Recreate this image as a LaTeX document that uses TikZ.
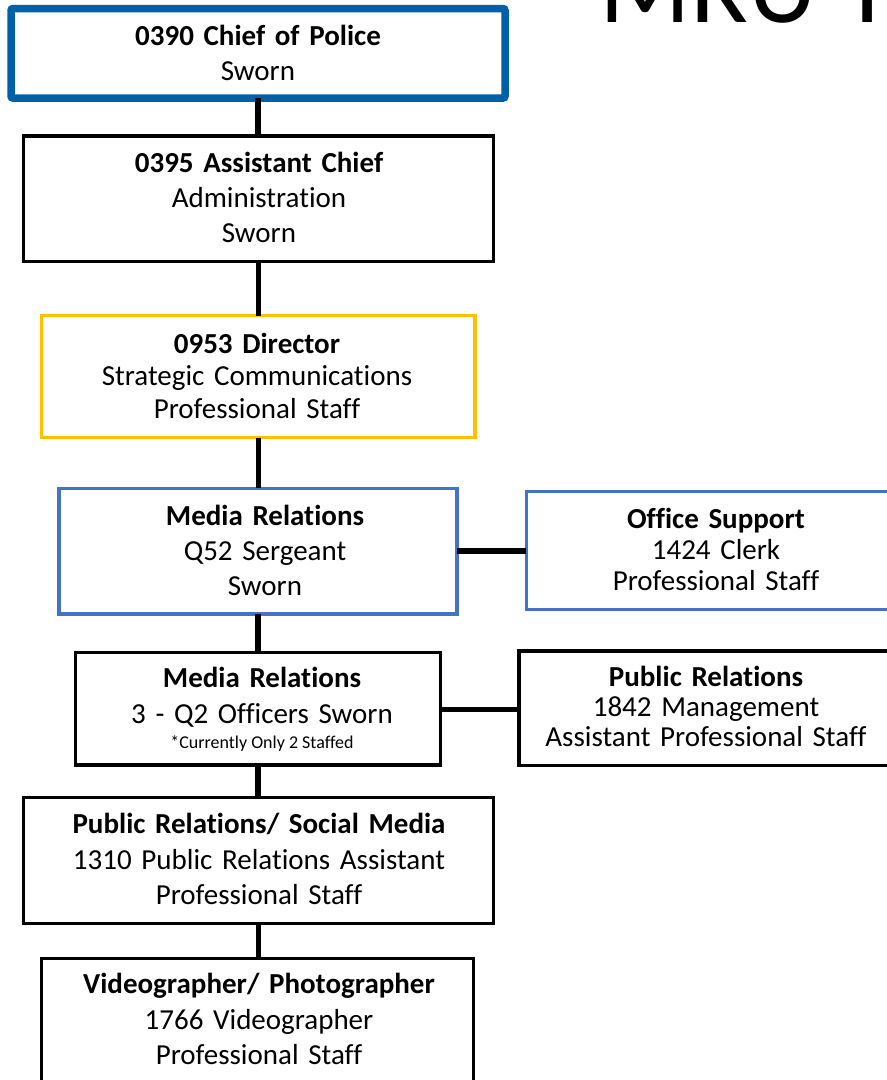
\documentclass[tikz,border=0pt]{standalone}
\usepackage{fontspec}
\setmainfont{Carlito}[Ligatures={NoCommon}]
\definecolor{chiefblue}{RGB}{0,96,170}
\definecolor{dirgold}{RGB}{255,192,0}
\definecolor{mrblue}{RGB}{68,114,196}
\begin{document}
\begin{tikzpicture}[x=1pt,y=-1pt,
  box/.style={draw=black, line width=3.4pt, rectangle, inner sep=0pt, outer sep=0pt},
  lbl/.style={anchor=base, inner sep=0pt, text width=480pt, align=center, font=\fontsize{29}{#1}\selectfont},
  lbl/.default=35,
  conn/.style={draw=black, line width=5.5pt}]
\useasboundingbox (0,0) rectangle (887,1080);
\clip (0,0) rectangle (887,1080);
\fill[white] (0,0) rectangle (887,1080);

% title (cut off by page edge)
\node[anchor=base west, inner sep=0pt, font=\fontsize{107}{107}\selectfont] (title) at (599,22) {MRU T};

% boxes
\node[box, draw=chiefblue, line width=7.5pt, rounded corners=2pt, minimum width=494pt, minimum height=89.5pt] (chief) at (258,53.3) {};
\node[box, minimum width=470pt, minimum height=125.7pt] (asst) at (258.3,198.9) {};
\node[box, draw=dirgold, minimum width=433.3pt, minimum height=122pt] (dir) at (258.3,376.7) {};
\node[box, draw=mrblue, minimum width=398pt, minimum height=125.7pt] (sgt) at (258,551.2) {};
\node[box, draw=mrblue, minimum width=381.7pt, minimum height=117.6pt] (office) at (717.2,550.5) {};
\node[box, minimum width=365pt, minimum height=112.7pt] (officers) at (258.2,708.7) {};
\node[box, minimum width=374pt, minimum height=114.7pt] (pr) at (706,708.3) {};
\node[box, minimum width=470pt, minimum height=126pt] (prsm) at (258.3,860.3) {};
\node[box, minimum width=431.6pt, minimum height=126pt] (video) at (257.5,1021.3) {};

% connectors
\draw[conn] (chief.south) -- (chief.south |- asst.north);
\draw[conn] (asst.south) -- (asst.south |- dir.north);
\draw[conn] (dir.south) -- (dir.south |- sgt.north);
\draw[conn] (sgt.south) -- (sgt.south |- officers.north);
\draw[conn] (officers.south) -- (officers.south |- prsm.north);
\draw[conn] (prsm.south) -- (prsm.south |- video.north);
\draw[conn] (sgt.east) -- (sgt.east -| office.west);
\draw[conn] ([yshift=-1pt]officers.east) -- ([yshift=-1pt]officers.east -| pr.west);

% texts
\node[lbl=35] (tchief) at (258,45) {\textbf{0390 Chief of Police}\\Sworn};
\node[lbl=35] (tasst) at (259,172) {\textbf{0395 Assistant Chief}\\Administration\\Sworn};
\node[lbl=32.5] (tdir) at (257,353.3) {\textbf{0953 Director}\\Strategic Communications\\Professional Staff};
\node[lbl=35] (tsgt) at (265,525) {\textbf{Media Relations}\\Q52 Sergeant\\Sworn};
\node[lbl=31] (toffice) at (716,528.3) {\textbf{Office Support}\\1424 Clerk\\Professional Staff};
\node[lbl=35.6] (tofficers) at (262,687.7) {\textbf{Media Relations}\\3 - Q2 Officers Sworn};
\node[anchor=base, inner sep=0pt, font=\fontsize{18}{22}\selectfont] (tnote) at (262,748.3) {*Currently Only 2 Staffed};
\node[lbl=30] (tpr) at (706,686.7) {\textbf{Public Relations}\\1842 Management\\Assistant Professional Staff};
\node[lbl=35.8] (tprsm) at (259,833.3) {\textbf{Public Relations/ Social Media}\\1310 Public Relations Assistant\\Professional Staff};
\node[lbl=35.8] (tvideo) at (259,993.3) {\textbf{Videographer/ Photographer}\\1766 Videographer\\Professional Staff};
\end{tikzpicture}
\end{document}
